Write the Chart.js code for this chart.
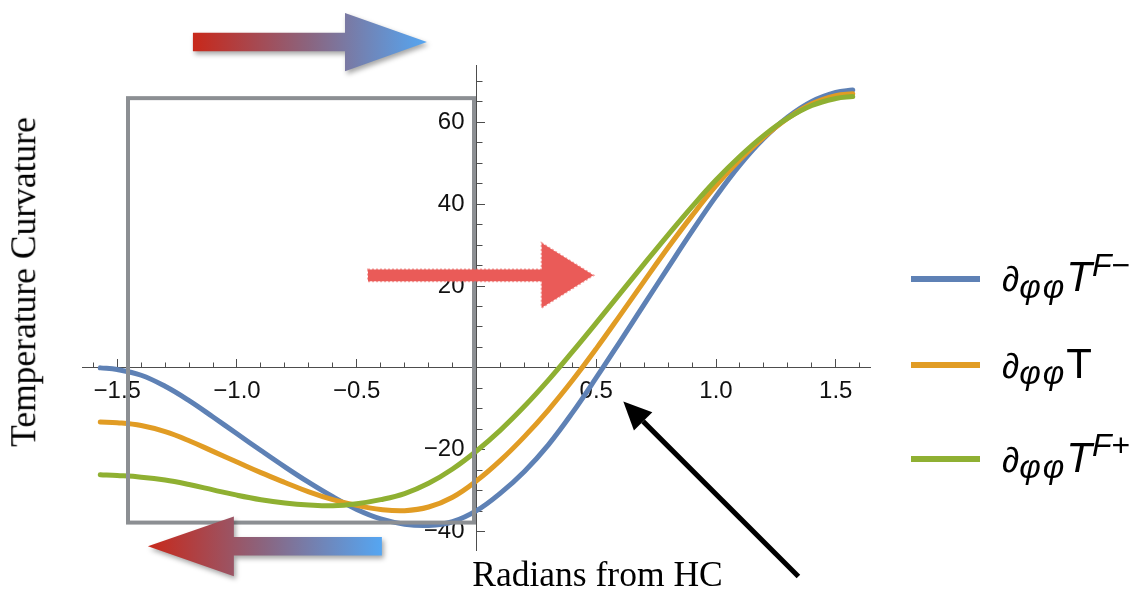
<!DOCTYPE html>
<html>
<head>
<meta charset="utf-8">
<title>Temperature Curvature</title>
<script src="https://cdn.jsdelivr.net/npm/chart.js@4.4.1/dist/chart.umd.min.js"></script>
<style>
  body { margin: 0; background: #fff; }
  #wrap { position: relative; width: 1141px; height: 590px; overflow: hidden; }
  #curv { position: absolute; left: 0; top: 0; }
  .title { position: absolute; font-family: "Liberation Serif", "Times New Roman", serif; font-size: 35.5px; line-height: 1; white-space: nowrap; color: #000; }
  #ytitle { left: 23.5px; top: 282px; transform: translate(-50%, -50%) rotate(-90deg); }
  #xtitle { left: 597.5px; top: 557px; transform: translateX(-50%); }
  .leg-row { position: absolute; left: 0; height: 0; }
  .swatch { position: absolute; left: 911px; width: 69px; height: 6px; top: -3px; }
  .lbl { position: absolute; left: 1002px; top: -22.6px; font-family: "Liberation Sans", Arial, sans-serif; font-size: 42px; line-height: 1; white-space: nowrap; color: #000; }
  .lbl .d { font-style: italic; font-size: 35px; }
  .lbl .sub { font-style: italic; font-size: 33px; letter-spacing: 2px; position: relative; top: 6.5px; }
  .lbl .sup { font-size: 32px; position: relative; top: -15.5px; }
  .lbl .sup i { font-style: italic; }
</style>
</head>
<body>
<div id="wrap">
  <canvas id="curv" width="1141" height="590"></canvas>
  <div class="title" id="ytitle">Temperature Curvature</div>
  <div class="title" id="xtitle">Radians from HC</div>
  <div id="legend"></div>
</div>
<script>
// angle from HC (radians)
const phi = [-1.5708, -1.5, -1.4, -1.3, -1.2, -1.1, -1.0, -0.9, -0.8, -0.7, -0.6, -0.5, -0.4, -0.3, -0.2, -0.1,
  0, 0.1, 0.2, 0.3, 0.4, 0.5, 0.6, 0.7, 0.8, 0.9, 1.0, 1.1, 1.2, 1.3, 1.4, 1.5, 1.5708];

// d_phiphi T^(F-)
const curvFminus = [0.0, -0.4, -1.8, -4.5, -8.0, -12.0, -16.1, -20.2, -24.2, -28.0, -31.5, -34.6, -36.9, -38.2, -38.5, -37.6,
  -34.9, -30.6, -25.3, -18.8, -11.0, -2.4, 6.5, 15.5, 24.5, 33.4, 41.9, 49.6, 56.1, 61.3, 65.1, 67.3, 67.9];

// d_phiphi T
const curvT = [-13.2, -13.4, -14.1, -15.6, -17.8, -20.4, -23.0, -25.6, -28.0, -30.3, -32.2, -33.6, -34.6, -34.9, -34.0, -31.6,
  -27.6, -22.6, -16.8, -10.3, -3.1, 4.7, 12.9, 21.2, 29.4, 37.2, 44.5, 50.9, 56.4, 61.0, 64.5, 66.5, 67.0];

// d_phiphi T^(F+)
const curvFplus = [-26.1, -26.3, -26.7, -27.4, -28.5, -29.8, -31.1, -32.2, -33.0, -33.5, -33.7, -33.2, -32.2, -30.7, -28.2, -24.7,
  -20.3, -15.2, -9.4, -3.0, 3.9, 11.0, 18.2, 25.4, 32.5, 39.4, 45.9, 51.7, 56.8, 61.0, 64.1, 65.8, 66.3];

const xTicks = [-1.5, -1.0, -0.5, 0.5, 1.0, 1.5];
const yTicks = [-40, -20, 20, 40, 60];

const seriesColors = ["#5e81b5", "#e19c24", "#8fb032"];
const legendSup = ["F\u2212", "", "F+"];
const legendRowY = [278.7, 365.3, 459.3];

const axisColor = "#4d4d4d";
const tickFont = { family: "'Liberation Sans', Arial, sans-serif", size: 24 };

const minusSign = (s) => s.replace("-", "\u2212");

const toPoints = (vals) => phi.map((x, i) => ({ x: x, y: vals[i] }));

// overlay drawings (arrows, box), placed in data units
const drawArrow = (ctx, x0, x1, xHead, cy, shaftHalf, headHalf) => {
  ctx.beginPath();
  ctx.moveTo(x0, cy - shaftHalf);
  ctx.lineTo(xHead, cy - shaftHalf);
  ctx.lineTo(xHead, cy - headHalf);
  ctx.lineTo(x1, cy);
  ctx.lineTo(xHead, cy + headHalf);
  ctx.lineTo(xHead, cy + shaftHalf);
  ctx.lineTo(x0, cy + shaftHalf);
  ctx.closePath();
};

const overlay = {
  id: "overlay",
  afterDraw(chart) {
    const ctx = chart.ctx;
    const sx = chart.scales.x;
    const sy = chart.scales.y;
    const px = (v) => sx.getPixelForValue(v);
    const py = (v) => sy.getPixelForValue(v);
    const uy = (d) => d * (py(0) - py(1));

    ctx.save();

    // grey box
    ctx.strokeStyle = "#8c8f93";
    ctx.lineWidth = 4;
    ctx.strokeRect(px(-1.455), py(65.9), px(-0.0104) - px(-1.455), py(-37.8) - py(65.9));

    // top gradient arrow (pointing right)
    let g = ctx.createLinearGradient(px(-1.184), 0, px(-0.207), 0);
    g.addColorStop(0, "#c8281a");
    g.addColorStop(0.5, "#8a6580");
    g.addColorStop(1, "#55a6f2");
    ctx.save();
    ctx.shadowColor = "rgba(0,0,0,0.35)";
    ctx.shadowBlur = 5;
    ctx.shadowOffsetX = 2;
    ctx.shadowOffsetY = 3;
    ctx.fillStyle = g;
    drawArrow(ctx, px(-1.184), px(-0.207), px(-0.549), py(79.6), uy(2.25), uy(7.1));
    ctx.fill();
    ctx.restore();

    // bottom gradient arrow (pointing left)
    g = ctx.createLinearGradient(px(-1.372), 0, px(-0.395), 0);
    g.addColorStop(0, "#c8281a");
    g.addColorStop(0.5, "#8a6580");
    g.addColorStop(1, "#55a6f2");
    ctx.save();
    ctx.shadowColor = "rgba(0,0,0,0.35)";
    ctx.shadowBlur = 5;
    ctx.shadowOffsetX = 2;
    ctx.shadowOffsetY = 3;
    ctx.fillStyle = g;
    drawArrow(ctx, px(-0.395), px(-1.372), px(-1.013), py(-43.6), uy(2.27), uy(7.3));
    ctx.fill();
    ctx.restore();

    // hand-drawn red arrow
    ctx.save();
    ctx.fillStyle = "#ea5b58";
    ctx.strokeStyle = "rgba(234,91,88,0.55)";
    ctx.lineWidth = 2;
    ctx.setLineDash([2, 2]);
    drawArrow(ctx, px(-0.453), px(0.488), px(0.272), py(22.6), uy(1.45), uy(7.9));
    ctx.fill();
    ctx.stroke();
    ctx.restore();

    // black pointer arrow
    const tx = px(0.613), ty = py(-8.24);
    const bx = px(1.344), by = py(-51.0);
    const ang = Math.atan2(ty - by, tx - bx);
    const headLen = 28, headW = 13;
    const hx = tx - headLen * Math.cos(ang), hy = ty - headLen * Math.sin(ang);
    ctx.strokeStyle = "#000";
    ctx.lineWidth = 5;
    ctx.beginPath();
    ctx.moveTo(bx, by);
    ctx.lineTo(hx, hy);
    ctx.stroke();
    ctx.fillStyle = "#000";
    ctx.beginPath();
    ctx.moveTo(tx, ty);
    ctx.lineTo(hx + headW * Math.sin(ang), hy - headW * Math.cos(ang));
    ctx.lineTo(hx - headW * Math.sin(ang), hy + headW * Math.cos(ang));
    ctx.closePath();
    ctx.fill();

    ctx.restore();
  }
};

const tickGrid = (len) => ({ drawOnChartArea: false, drawTicks: true, tickLength: len, color: axisColor, lineWidth: 1 });

new Chart(document.getElementById("curv"), {
  type: "line",
  data: {
    datasets: [
      { label: "FMinus", data: toPoints(curvFminus), borderColor: seriesColors[0], order: 2 },
      { label: "T", data: toPoints(curvT), borderColor: seriesColors[1], order: 1 },
      { label: "FPlus", data: toPoints(curvFplus), borderColor: seriesColors[2], order: 0 },
    ],
  },
  options: {
    responsive: false,
    animation: false,
    events: [],
    layout: { padding: { left: 82.5, right: 270.5, top: 65, bottom: 40 } },
    elements: {
      line: { borderWidth: 5, tension: 0.4, borderCapStyle: "round", borderJoinStyle: "round", fill: false },
      point: { radius: 0 },
    },
    plugins: { legend: { display: false }, tooltip: { enabled: false } },
    scales: {
      x: {
        type: "linear", axis: "x", position: { y: 0 }, min: -1.645, max: 1.645,
        afterBuildTicks: (scale) => { scale.ticks = xTicks.map((v) => ({ value: v })); },
        ticks: { autoSkip: false, maxRotation: 0, padding: 18, color: "#111", font: tickFont,
          callback: (v) => minusSign(Number(v).toFixed(1)) },
        grid: tickGrid(-9),
        border: { display: true, color: axisColor, width: 1 },
      },
      xMinor: {
        type: "linear", axis: "x", position: { y: 0 }, min: -1.645, max: 1.645,
        ticks: { stepSize: 0.1, includeBounds: false, autoSkip: false, display: false },
        grid: tickGrid(-5.5),
        border: { display: false },
      },
      y: {
        type: "linear", axis: "y", position: { x: 0 }, min: -44.5, max: 74,
        afterBuildTicks: (scale) => { scale.ticks = yTicks.map((v) => ({ value: v })); },
        ticks: { autoSkip: false, padding: 10, color: "#111", font: tickFont,
          callback: (v) => minusSign(String(v)) + "\u2002" },
        grid: tickGrid(-9),
        border: { display: true, color: axisColor, width: 1 },
      },
      yMinor: {
        type: "linear", axis: "y", position: { x: 0 }, min: -44.5, max: 74,
        ticks: { stepSize: 5, includeBounds: false, autoSkip: false, display: false },
        grid: tickGrid(-5.5),
        border: { display: false },
      },
    },
  },
  plugins: [overlay],
});

// legend
const legend = document.getElementById("legend");
seriesColors.forEach((col, i) => {
  const row = document.createElement("div");
  row.className = "leg-row";
  row.style.top = legendRowY[i] + "px";
  const sw = document.createElement("div");
  sw.className = "swatch";
  sw.style.background = col;
  const lbl = document.createElement("div");
  lbl.className = "lbl";
  let html = '<span class="d">\u2202</span><span class="sub">\u03c6\u03c6</span>';
  if (legendSup[i]) {
    html += "<i>T</i>" + '<span class="sup"><i>' + legendSup[i][0] + "</i>" + legendSup[i].slice(1) + "</span>";
  } else {
    html += "T";
  }
  lbl.innerHTML = html;
  row.appendChild(sw);
  row.appendChild(lbl);
  legend.appendChild(row);
});
</script>
</body>
</html>
